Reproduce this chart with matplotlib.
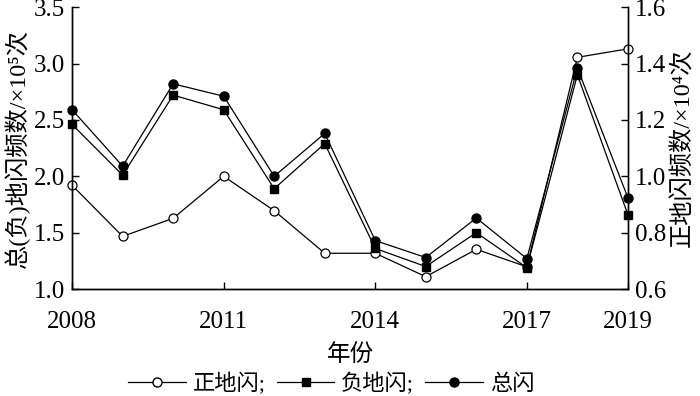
import matplotlib
matplotlib.use("Agg")
import matplotlib.pyplot as plt
from matplotlib.lines import Line2D

plt.rcParams['font.family'] = ['Liberation Serif', 'Noto Sans CJK SC']
plt.rcParams['axes.unicode_minus'] = False

years = [2008, 2009, 2010, 2011, 2012, 2013, 2014, 2015, 2016, 2017, 2018, 2019]
# positive CG flashes, x10^4 (right axis)
positive = [0.968, 0.787, 0.851, 1.00, 0.878, 0.727, 0.727, 0.644, 0.741, 0.679, 1.422, 1.452]
# negative CG flashes, x10^5 (left axis)
negative = [2.46, 2.01, 2.72, 2.59, 1.89, 2.29, 1.36, 1.20, 1.50, 1.19, 2.90, 1.66]
# total CG flashes, x10^5 (left axis)
total = [2.59, 2.09, 2.82, 2.71, 2.00, 2.38, 1.43, 1.28, 1.63, 1.27, 2.96, 1.81]

xticks = [2008, 2011, 2014, 2017, 2019]
left_ticks = [1.0, 1.5, 2.0, 2.5, 3.0, 3.5]
right_ticks = [0.6, 0.8, 1.0, 1.2, 1.4, 1.6]

fig = plt.figure(figsize=(7, 3.96), dpi=100)
ax = fig.add_axes([0.103, 0.270, 0.794, 0.712])
ax2 = ax.twinx()
ax.set_zorder(ax2.get_zorder() + 1)
ax.patch.set_visible(False)

lw = 0.9
ms = 6.5
ax2.plot(years, positive, color='black', lw=lw, marker='o', ms=ms,
         mfc='white', mec='black', mew=0.9, clip_on=False)
ax.plot(years, negative, color='black', lw=lw, marker='s', ms=ms - 0.5,
        mfc='black', mec='black', clip_on=False)
ax.plot(years, total, color='black', lw=lw, marker='o', ms=ms,
        mfc='black', mec='black', clip_on=False)

ax.set_xlim(2008, 2019)
ax.set_ylim(1.0, 3.5)
ax2.set_ylim(0.6, 1.6)
ax.set_xticks(xticks)
ax.set_yticks(left_ticks)
ax2.set_yticks(right_ticks)
ax.set_yticklabels([f'{v:.1f}' for v in left_ticks])
ax2.set_yticklabels([f'{v:.1f}' for v in right_ticks])

for a in (ax, ax2):
    a.spines['top'].set_visible(False)
    for s in a.spines.values():
        s.set_linewidth(1.0)
    a.tick_params(direction='in', length=5, width=1.0, labelsize=18, pad=5)
ax.tick_params(axis='x', pad=16)

ax.set_xlabel('年份', fontsize=17, labelpad=8)
ax.set_ylabel('总(负)地闪频数/×10⁵次', fontsize=17.5, labelpad=3)
ax2.set_ylabel('正地闪频数/×10⁴次', fontsize=17.5, labelpad=4)

handles = [
    Line2D([], [], color='black', lw=lw, marker='o', ms=ms, mfc='white', mec='black'),
    Line2D([], [], color='black', lw=lw, marker='s', ms=ms - 0.5, mfc='black', mec='black'),
    Line2D([], [], color='black', lw=lw, marker='o', ms=ms, mfc='black', mec='black'),
]
labels = ['正地闪;', '负地闪;', '总闪']
fig.legend(handles, labels, loc='center', bbox_to_anchor=(0.473, 0.03), ncol=3,
           frameon=False, fontsize=16, handlelength=2.6, handletextpad=0.3,
           columnspacing=0.5)

fig.savefig('out.png', dpi=100)
